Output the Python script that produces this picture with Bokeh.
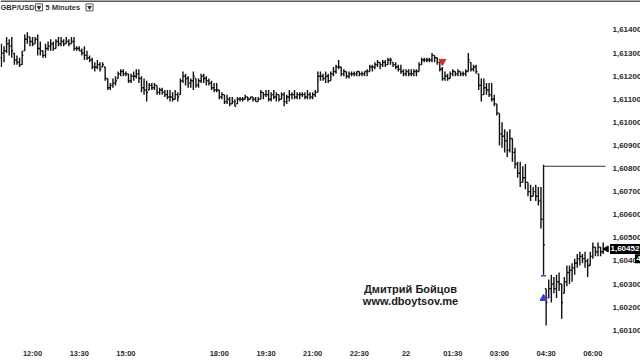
import math
from bokeh.plotting import figure
from bokeh.models import Range1d, FixedTicker, ColumnDataSource
from bokeh.core.properties import value
from bokeh.embed import file_html
from bokeh.resources import INLINE

# GBP/USD 5-minute bars, values in pips above 1.6000
open_pips = [
    128,130,131,134,133,130,127,126,125,131,
    136,137,135,134,136,132,131,129,132,133,
    134,132,135,134,135,134,135,134,135,132,
    132,131,130,129,128,127,124,124,125,124,
    124,119,115,116,117,119,121,122,121,121,
    118,120,120,121,119,115,114,114,116,115,
    116,113,114,113,112,111,111,110,112,112,
    118,120,119,117,118,119,116,118,120,119,
    118,117,115,114,114,111,112,109,110,108,
    109,108,110,110,110,111,110,111,110,109,
    110,113,112,112,110,112,111,112,110,112,
    109,111,112,112,111,112,112,112,111,112,
    111,112,113,120,120,119,120,118,121,122,
    124,124,121,122,120,121,121,121,122,121,
    121,122,122,124,124,125,126,125,126,125,
    127,126,125,124,123,122,121,122,121,121,
    122,122,125,127,127,127,127,129,128,126,
    123,119,120,119,121,122,121,122,121,121,
    122,126,123,124,121,116,112,115,114,112,
    110,108,104,95,94,92,88,93,87,82,
    78,74,76,74,70,68,70,68,66,58,
    28,24,28,30,28,31,30,26,31,35,
    36,37,39,41,42,41,40,38,42,46,
    44,46,44,
]
high_pips = [
    134,133,137,136,137,130,129,128,131,138,
    139,137,137,137,138,135,131,134,135,136,
    135,136,137,137,136,137,136,137,137,133,
    133,132,133,131,129,128,126,127,126,126,
    124,119,117,119,120,122,123,123,122,121,
    121,122,123,123,120,119,118,117,117,117,
    116,115,115,114,114,114,113,114,113,119,
    122,121,120,119,122,119,119,121,121,120,
    119,118,117,117,114,113,112,112,111,111,
    110,111,111,111,112,111,111,111,111,111,
    114,113,114,114,113,114,113,112,113,113,
    112,114,113,114,113,113,113,113,114,113,
    113,114,122,122,121,122,121,122,124,125,
    127,124,123,122,122,122,122,122,122,122,
    122,123,125,125,126,127,126,127,127,128,
    128,126,126,125,125,123,123,123,123,123,
    123,126,128,128,128,128,130,129,128,126,
    124,122,121,122,123,122,123,122,122,123,
    130,126,125,125,121,119,119,117,117,117,
    112,108,104,100,97,96,97,93,89,83,
    83,81,82,74,73,72,73,72,72,81.6,
    28,32,34,33,34,35,30,33,38,38,
    39,41,43,44,43,44,41,44,48,46,
    48,46,48,
]
low_pips = [
    124,126,130,129,128,125,125,124,125,131,
    134,133,133,134,129,129,128,128,131,131,
    131,132,133,133,133,134,133,134,131,131,
    131,129,127,127,126,123,122,123,122,124,
    118,114,114,115,116,119,120,120,120,117,
    117,118,119,117,113,112,109,114,114,114,
    112,112,112,111,110,109,109,110,109,112,
    117,116,115,115,114,115,115,117,117,116,
    116,114,113,113,110,110,108,108,107,108,
    107,108,109,109,110,109,110,109,109,109,
    110,110,111,109,109,110,109,109,110,107,
    108,109,110,110,110,110,111,110,110,110,
    110,111,113,118,118,117,117,118,120,121,
    123,120,120,119,119,120,120,120,120,120,
    120,120,122,122,123,124,123,124,124,125,
    125,124,123,122,121,120,120,120,120,120,
    120,122,125,126,126,126,126,126,125,122,
    118,118,118,119,120,120,120,120,120,120,
    122,122,122,121,114,109,112,112,111,109,
    107,103,90,89,87,85,87,83,80,76,
    72,74,71,68,66,68,66,64,54,34,
    12,24,22,26,24,27,15,26,29,30,
    31,34,37,38,39,37,33,38,41,42,
    42,42,43,
]
close_pips = [
    130,131,134,133,131,127,126,125,129,136,
    137,135,134,136,132,131,129,132,133,134,
    132,135,134,135,134,135,134,135,132,132,
    131,130,129,128,127,124,124,125,123,125,
    119,115,116,117,118,121,122,121,121,118,
    120,120,121,119,115,114,113,116,115,116,
    113,114,113,112,111,111,110,112,111,118,
    120,119,117,118,120,116,118,120,119,118,
    117,115,114,114,111,112,109,110,108,109,
    107,110,110,110,111,110,111,110,109,110,
    113,112,112,110,112,111,112,110,112,109,
    111,112,112,111,112,112,112,111,112,111,
    112,113,120,120,119,120,118,121,122,124,
    124,121,122,120,121,121,121,122,121,121,
    122,122,124,124,125,126,125,126,125,127,
    127,125,124,123,122,121,122,121,121,122,
    122,125,127,127,127,127,129,128,126,123,
    119,120,119,121,122,121,122,121,121,122,
    127,123,124,122,116,112,115,114,112,110,
    108,104,95,94,92,88,93,87,82,78,
    74,76,74,70,68,70,68,66,58,47,
    22,28,30,28,31,30,22,31,35,36,
    37,39,41,42,41,40,38,42,46,44,
    46,44,45.2,
]
BASE = 1.6000

# time axis: bar index -> label (first bar = 11:00, 5-minute bars)
time_tick_index = [12, 30, 48, 84, 102, 120, 138, 156, 174, 192, 210, 228]
time_tick_labels = ["12:00", "13:30", "15:00", "18:00", "19:30", "21:00",
                    "22:30", "22", "01:30", "03:00", "04:30", "06:00"]

price_ticks = [1.601, 1.602, 1.603, 1.604, 1.605, 1.606, 1.607,
               1.608, 1.609, 1.610, 1.611, 1.612, 1.613, 1.614]
price_tick_labels = ["1,60100", "1,60200", "1,60300", "1,60400", "1,60500",
                     "1,60600", "1,60700", "1,60800", "1,60900", "1,61000",
                     "1,61100", "1,61200", "1,61300", "1,61400"]

# drawn level line and trade signals
level_price = 1.6081
level_start_index = 209
sell_index, sell_price = [170], [1.61264]
buy_index, buy_price = [209], [1.60238]
buy_mark_index, buy_mark_price = [209], [1.60336]
last_price_text = "1,60452"
hidden_box_price, hidden_box_text = 1.60409, "4"

n = len(close_pips)
xs = list(range(n))
o = [BASE + v / 10000 for v in open_pips]
h = [BASE + v / 10000 for v in high_pips]
l = [BASE + v / 10000 for v in low_pips]
c = [BASE + v / 10000 for v in close_pips]

W, H_FRAME = 640, 347
BAR_PX = 2.594
X0 = -0.9 / BAR_PX


def px(pixel):
    """horizontal pixel position in the window -> bar-index coordinate"""
    return X0 + pixel / BAR_PX


X1 = px(W)
Y_LO, Y_HI = 1.600512, 1.615277


def py(pixel):
    """vertical pixel position (from top) -> price coordinate"""
    return Y_HI - pixel / H_FRAME * (Y_HI - Y_LO)


tick = 0.5
src = ColumnDataSource(dict(x=xs, xl=[x - tick for x in xs], xr=[x + tick for x in xs],
                            o=o, h=h, l=l, c=c))

p = figure(width=W, height=360, output_backend="svg", toolbar_location=None,
           x_range=Range1d(X0, X1), y_range=Range1d(Y_LO, Y_HI),
           y_axis_location=None, min_border_left=0, min_border_top=0,
           min_border_right=0, min_border_bottom=13)
p.grid.visible = False
p.outline_line_color = None
p.background_fill_color = "white"
p.border_fill_color = "white"

xax = p.xaxis[0]
xax.ticker = FixedTicker(ticks=time_tick_index)
xax.major_label_overrides = dict(zip(time_tick_index, time_tick_labels))
xax.axis_line_color = None
xax.major_tick_line_color = None
xax.minor_tick_line_color = None
xax.major_label_standoff = 1
xax.major_label_text_font = "Liberation Sans"
xax.major_label_text_font_style = "bold"
xax.major_label_text_font_size = "7.5px"
xax.major_label_text_color = "#2a2a2a"

FONT = value("Liberation Sans")

# window border line at the very top
p.segment(x0=[X0], y0=[py(0.5)], x1=[X1], y1=[py(0.5)], line_color="#222222", line_width=1.5)

# price scale labels on the right
p.text(x=[px(612)] * len(price_ticks), y=price_ticks, text=price_tick_labels,
       text_font=FONT, text_font_style="bold", text_font_size="8px",
       text_color="#2a2a2a", text_align="left", text_baseline="middle")

bar_col = "#111111"
lw = 1.4
p.segment(x0="x", y0="l", x1="x", y1="h", source=src, line_color=bar_col, line_width=lw)
p.segment(x0="xl", y0="o", x1="x", y1="o", source=src, line_color=bar_col, line_width=lw)
p.segment(x0="x", y0="c", x1="xr", y1="c", source=src, line_color=bar_col, line_width=lw)

# horizontal level drawn from the spike bar
p.segment(x0=[level_start_index], y0=[level_price], x1=[px(605)], y1=[level_price],
          line_color="#333333", line_width=1.2)

# signals
p.scatter(sell_index, sell_price, marker="inverted_triangle", size=7,
          fill_color="#d42a2a", line_color="#d42a2a")
p.scatter(buy_index, buy_price, marker="triangle", size=7,
          fill_color="#3440c8", line_color="#3440c8")
p.scatter(buy_mark_index, buy_mark_price, marker="dash", size=5,
          line_color="#3440c8", line_width=1.5)

# last price box
p.scatter([px(606)], [c[-1]], marker="triangle", angle=math.pi / 2, size=6,
          fill_color="black", line_color="black")
p.rect([px(625)], [c[-1]], width=31, height=10, width_units="screen",
       height_units="screen", fill_color="black", line_color=None)
p.text([px(610)], [c[-1]], text=[last_price_text], text_font=FONT, text_font_style="bold",
       text_font_size="8px", text_color="white", text_align="left", text_baseline="middle")
p.rect([px(638)], [hidden_box_price], width=7, height=9, width_units="screen",
       height_units="screen", fill_color="black", line_color=None)
p.text([px(636)], [hidden_box_price], text=[hidden_box_text], text_font=FONT,
       text_font_style="bold", text_font_size="8px", text_color="white",
       text_align="left", text_baseline="middle")

# watermark
p.text([px(410)] * 2, [py(294), py(306)], text=["Дмитрий Бойцов", "www.dboytsov.me"],
       text_font=FONT, text_font_style="bold", text_font_size="11px",
       text_color="#1a1a1a", text_align="center", text_baseline="middle")

# header
p.text([px(0), px(45)], [py(7)] * 2, text=["GBP/USD", "5 Minutes"], text_font=FONT,
       text_font_style="bold", text_font_size="7.5px", text_color="#333333",
       text_align="left", text_baseline="middle")
p.rect([px(38.5), px(89)], [py(7)] * 2, width=7, height=7, width_units="screen",
       height_units="screen", fill_color="white", line_color="#555555", line_width=1)
p.scatter([px(38.5), px(89)], [py(7)] * 2, marker="inverted_triangle", size=3.5,
          fill_color="#333333", line_color="#333333")

open("out.html", "w").write(file_html(p, INLINE))
